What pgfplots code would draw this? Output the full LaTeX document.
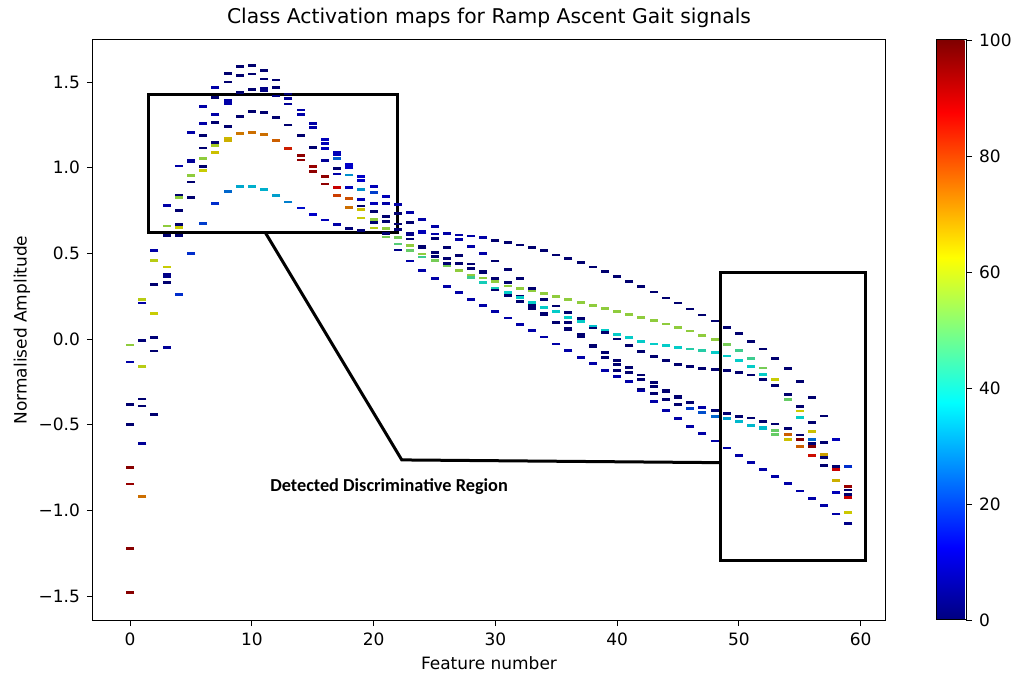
\documentclass[border=0pt]{standalone}
\usepackage{fontspec}
\setmainfont{DejaVu Sans}
\newfontfamily\carlito{Carlito}
\usepackage{pgfplots}
\usepackage{pgfplotstable}
\pgfplotsset{compat=1.18}
\pgfplotstableread{
x y c
0 -0.035 55
0 -0.134 8
0 -0.38 1
0 -0.50 1
0 -0.75 96
0 -0.845 94
0 -1.22 96
0 -1.48 96
1 0.23 60
1 0.21 8
1 -0.006 2
1 -0.16 60
1 -0.35 1
1 -0.39 1
1 -0.61 6
1 -0.92 74
2 0.515 8
2 0.46 60
2 0.32 1
2 0.15 62
2 0.01 2
2 -0.07 1
2 -0.44 1
3 0.78 8
3 0.66 55
3 0.605 1
3 0.42 62
3 0.375 4
3 0.365 4
3 0.33 1
3 -0.05 6
4 1.01 8
4 0.84 1
4 0.825 55
4 0.75 1
4 0.67 1
4 0.652 62
4 0.605 1
4 0.26 18
5 1.203 8
5 1.045 6
5 1.035 6
5 0.953 55
5 0.917 1
5 0.827 1
5 0.50 18
6 1.356 8
6 1.257 8
6 1.19 1
6 1.115 1
6 1.054 55
6 1.006 1
6 0.983 62
6 0.675 20
7 1.469 8
7 1.408 1
7 1.308 8
7 1.265 1
7 1.146 1
7 1.13 58
7 1.09 64
7 0.792 18
8 1.55 1
8 1.50 1
8 1.39 8
8 1.375 8
8 1.242 1
8 1.17 65
8 1.16 66
8 0.86 25
9 1.59 1
9 1.54 1
9 1.44 1
9 1.30 1
9 1.20 73
9 0.889 33
10 1.596 1
10 1.547 1
10 1.458 1
10 1.327 1
10 1.207 74
10 0.891 34
11 1.568 1
11 1.518 1
11 1.463 4
11 1.45 4
11 1.323 1
11 1.195 74
11 0.874 34
12 1.512 1
12 1.469 1
12 1.418 4
12 1.294 1
12 1.16 76
12 0.84 32
13 1.43 1
13 1.403 6
13 1.372 6
13 1.249 1
13 1.113 84
13 0.80 28
14 1.336 8
14 1.31 8
14 1.187 1
14 1.07 95
14 1.045 95
14 0.765 14
15 1.26 8
15 1.235 8
15 1.117 1
15 1.008 94
15 0.977 95
15 0.726 12
16 1.165 10
16 1.14 10
16 1.113 10
16 1.041 6
16 0.947 95
16 0.905 95
16 0.695 10
17 1.09 10
17 1.075 10
17 1.055 24
17 0.996 1
17 0.963 8
17 0.883 88
17 0.836 80
17 0.668 8
18 1.02 12
18 1.00 12
18 0.957 30
18 0.886 10
18 0.82 78
18 0.768 74
18 0.645 2
19 0.95 12
19 0.926 12
19 0.873 30
19 0.815 10
19 0.776 1
19 0.758 64
19 0.706 62
19 0.632 2
20 0.889 10
20 0.856 20
20 0.792 10
20 0.745 1
20 0.70 55
20 0.681 1
20 0.648 60
21 0.833 10
21 0.792 8
21 0.716 1
21 0.688 1
21 0.643 55
21 0.617 1
21 0.595 52
22 0.786 8
22 0.734 1
22 0.671 1
22 0.642 2
22 0.636 2
22 0.594 52
22 0.555 48
22 0.52 4
23 0.740 8
23 0.679 1
23 0.616 4
23 0.61 4
23 0.584 1
23 0.547 55
23 0.518 50
23 0.455 8
24 0.696 8
24 0.626 10
24 0.62 10
24 0.542 1
24 0.536 1
24 0.496 55
24 0.479 45
24 0.401 8
25 0.658 8
25 0.613 8
25 0.586 1
25 0.506 1
25 0.483 1
25 0.459 52
25 0.352 8
26 0.617 8
26 0.533 1
26 0.471 1
26 0.44 1
26 0.426 52
26 0.309 8
27 0.607 8
27 0.582 8
27 0.486 1
27 0.44 1
27 0.399 55
27 0.27 8
28 0.601 8
28 0.541 8
28 0.438 1
28 0.413 1
28 0.372 55
28 0.358 45
28 0.232 8
29 0.594 8
29 0.50 8
29 0.394 1
29 0.388 1
29 0.356 55
29 0.329 40
29 0.198 8
30 0.577 1
30 0.455 1
30 0.352 1
30 0.337 55
30 0.294 40
30 0.286 1
30 0.16 8
31 0.563 1
31 0.405 1
31 0.329 1
31 0.31 55
31 0.272 38
31 0.255 1
31 0.123 8
32 0.549 1
32 0.352 1
32 0.296 55
32 0.251 1
32 0.241 38
32 0.218 1
32 0.086 8
33 0.532 1
33 0.294 1
33 0.28 55
33 0.212 38
33 0.197 1
33 0.179 1
33 0.049 8
34 0.515 1
34 0.265 55
34 0.232 1
34 0.183 38
34 0.151 1
34 0.145 1
34 0.012 8
35 0.49 1
35 0.247 55
35 0.193 1
35 0.162 38
35 0.099 1
35 -0.029 8
36 0.47 1
36 0.229 55
36 0.156 1
36 0.127 38
36 0.097 1
36 0.06 1
36 0.054 1
36 -0.068 8
37 0.445 1
37 0.214 55
37 0.119 1
37 0.103 38
37 0.025 1
37 0.012 1
37 -0.107 8
38 0.42 1
38 0.197 55
38 0.076 36
38 0.065 1
38 -0.035 1
38 -0.043 1
38 -0.144 8
39 0.395 1
39 0.179 55
39 0.051 38
39 0.039 1
39 -0.076 1
39 -0.107 1
39 -0.181 8
40 0.366 1
40 0.162 55
40 0.027 38
40 0.0 1
40 -0.123 1
40 -0.15 1
40 -0.183 1
40 -0.218 8
41 0.337 1
41 0.142 55
41 0.008 38
41 -0.039 1
41 -0.165 1
41 -0.194 1
41 -0.249 8
42 0.306 1
42 0.124 55
42 -0.012 38
42 -0.072 1
42 -0.21 1
42 -0.237 1
42 -0.293 1
42 -0.303 8
43 0.275 1
43 0.107 55
43 -0.029 38
43 -0.101 1
43 -0.255 1
43 -0.278 1
43 -0.319 1
43 -0.364 8
44 0.24 1
44 0.088 55
44 -0.039 38
44 -0.125 1
44 -0.30 1
44 -0.306 1
44 -0.352 1
44 -0.416 8
45 0.21 1
45 0.068 55
45 -0.049 38
45 -0.146 1
45 -0.335 1
45 -0.343 1
45 -0.38 1
45 -0.463 8
46 0.175 1
46 0.047 55
46 -0.058 42
46 -0.162 1
46 -0.37 1
46 -0.407 20
46 -0.508 8
47 0.14 1
47 0.023 55
47 -0.068 42
47 -0.171 1
47 -0.399 8
47 -0.43 22
47 -0.553 8
48 0.105 1
48 -0.002 55
48 -0.08 38
48 -0.179 1
48 -0.418 1
48 -0.45 25
48 -0.595 8
49 0.068 1
49 -0.031 52
49 -0.099 38
49 -0.185 1
49 -0.434 1
49 -0.465 32
49 -0.636 8
50 0.031 1
50 -0.068 45
50 -0.123 38
50 -0.194 1
50 -0.45 1
50 -0.483 35
50 -0.677 8
51 -0.012 1
51 -0.115 45
51 -0.16 38
51 -0.21 1
51 -0.461 1
51 -0.504 35
51 -0.718 8
52 -0.058 1
52 -0.169 52
52 -0.208 38
52 -0.235 1
52 -0.479 1
52 -0.518 35
52 -0.524 35
52 -0.759 8
53 -0.111 1
53 -0.238 62
53 -0.272 1
53 -0.496 1
53 -0.533 50
53 -0.555 50
53 -0.802 8
54 -0.173 1
54 -0.325 1
54 -0.354 50
54 -0.521 1
54 -0.555 76
54 -0.588 64
54 -0.843 8
55 -0.247 1
55 -0.395 1
55 -0.42 63
55 -0.457 38
55 -0.56 1
55 -0.586 96
55 -0.626 76
55 -0.886 8
56 -0.339 1
56 -0.488 1
56 -0.541 64
56 -0.588 25
56 -0.609 1
56 -0.625 96
56 -0.677 86
56 -0.928 8
57 -0.449 1
57 -0.605 1
57 -0.675 68
57 -0.69 1
57 -0.737 1
57 -0.973 8
58 -0.584 10
58 -0.745 1
58 -0.761 88
58 -0.823 66
58 -0.897 10
58 -1.02 8
59 -0.745 18
59 -0.862 94
59 -0.88 1
59 -0.907 1
59 -0.924 88
59 -1.01 63
59 -1.074 4
}\camdata

\begin{document}
\begin{tikzpicture}
\path[use as bounding box] (-46.5pt,-33pt) rectangle (465.5pt,310pt);
\begin{axis}[
  at={(0pt,0pt)}, anchor=south west,
  scale only axis, width=396pt, height=290pt,
  xmin=-3.05, xmax=62.0, ymin=-1.639, ymax=1.745,
  xtick={0,10,...,60},
  ytick={-1.5,-1,-0.5,0,0.5,1,1.5},
  yticklabels={−1.5,−1.0,−0.5,0.0,0.5,1.0,1.5},
  /pgf/number format/assume math mode=true,
  tick align=outside, xtick pos=bottom, ytick pos=left,
  major tick length=3pt,
  tick style={black, line width=0.45pt},
  axis line style={black, line width=0.5pt},
  ticklabel style={font=\fontsize{8.5}{10}\selectfont},
  title={Class Activation maps for Ramp Ascent Gait signals},
  every axis title/.style={at={(0.5,1.0379)}, anchor=center, font=\fontsize{10.15}{12}\selectfont},
  xlabel={Feature number}, ylabel={Normalised Amplitude},
  xlabel style={at={(0.5,-0.0741)}, anchor=center, font=\fontsize{8.5}{10}\selectfont},
  ylabel style={at={(-0.0896,0.5)}, anchor=center, font=\fontsize{8.5}{10}\selectfont},
  colormap/jet, point meta min=0, point meta max=100,
  colorbar,
  colorbar style={
    at={(parent axis.north east)}, anchor=north west, xshift=17pt,
    scale only axis, width=15pt, height=290pt,
    ytick={0,20,...,100},
    /pgf/number format/assume math mode=true,
    tick align=outside, major tick length=3pt,
    ytick pos=right, yticklabel pos=right,
    ytick style={draw=black, line width=0.45pt},
    yticklabel style={font=\fontsize{8.5}{10}\selectfont},
    axis line style={black, line width=0.5pt},
  },
  clip=false,
]
\addplot[scatter, only marks, mark=-, mark size=2pt,
  mark options={line width=1.4pt}, scatter src=explicit]
  table[x=x, y=y, meta=c] {\camdata};
\draw[line width=1.5pt] (axis cs:1.47,0.624) rectangle (axis cs:21.92,1.429);
\draw[line width=1.5pt] (axis cs:48.45,-1.289) rectangle (axis cs:60.4,0.391);
\draw[line width=1.5pt] (axis cs:11.08,0.624) -- (axis cs:22.31,-0.705) -- (axis cs:48.45,-0.721);
\node[font=\carlito\bfseries\fontsize{9.15}{11}\selectfont] at (axis cs:21.27,-0.863) {Detected Discriminative Region};
\end{axis}
\end{tikzpicture}
\end{document}
